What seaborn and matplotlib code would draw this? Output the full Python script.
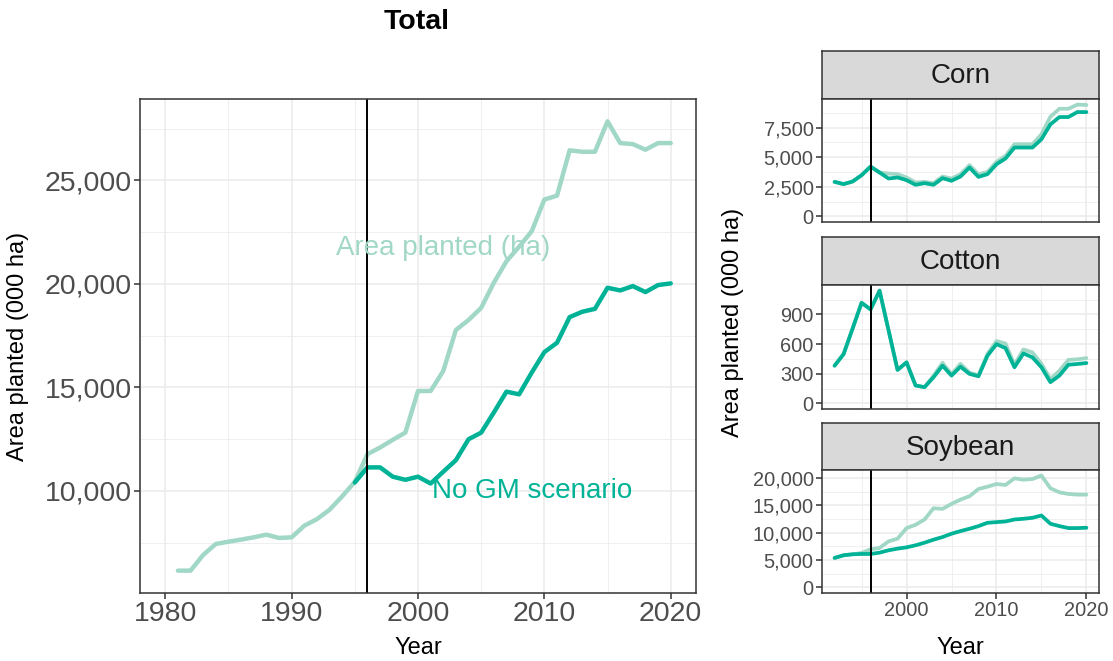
import seaborn as sns
import matplotlib.pyplot as plt
import matplotlib.ticker as mticker
import pandas as pd

## data (000 ha)
years_total = list(range(1981, 2021))
area_total = [6140, 6140, 6900, 7430, 7540, 7640, 7750, 7880, 7720, 7750,
              8310, 8630, 9080, 9730, 10430, 11770, 12090, 12460, 12810, 14820,
              14820, 15790, 17770, 18250, 18840, 20050, 21090, 21790, 22540, 24070,
              24260, 26450, 26380, 26380, 27850, 26800, 26750, 26480, 26800, 26800]
years_nogm = list(range(1995, 2021))
nogm_total = [10400, 11130, 11130, 10680, 10530, 10680, 10350, 10920, 11480, 12490,
              12810, 13780, 14790, 14660, 15710, 16700, 17150, 18390, 18650, 18790,
              19810, 19680, 19890, 19600, 19940, 20020]

years_crop = list(range(1992, 2021))
corn_area = [2920, 2730, 2950, 3480, 4210, 3710, 3620, 3570, 3290, 2870,
             2920, 2810, 3370, 3200, 3570, 4330, 3570, 3760, 4610, 5110,
             6100, 6100, 6100, 6940, 8430, 9100, 9100, 9450, 9420]
corn_nogm = [2920, 2730, 2950, 3480, 4210, 3710, 3200, 3290, 3060, 2670,
             2810, 2670, 3230, 3010, 3370, 4130, 3340, 3570, 4410, 4890,
             5820, 5820, 5820, 6520, 7780, 8400, 8400, 8820, 8820]
cotton_area = [381, 498, 756, 1017, 950, 1140, 739, 338, 415, 181,
               164, 280, 410, 295, 400, 310, 285, 500, 630, 605,
               390, 545, 515, 400, 245, 330, 440, 445, 458]
cotton_nogm = [381, 498, 756, 1017, 950, 1140, 739, 338, 415, 181,
               164, 264, 381, 281, 371, 298, 274, 482, 599, 559,
               365, 505, 465, 365, 214, 281, 391, 398, 408]
soy_area = [5390, 5880, 6060, 6300, 6970, 7210, 8420, 8910, 10850, 11450,
            12420, 14480, 14360, 15270, 16060, 16670, 18000, 18420, 18910, 18730,
            19940, 19700, 19820, 20450, 18120, 17390, 17090, 16970, 16970]
soy_nogm = [5390, 5880, 6060, 6120, 6120, 6360, 6790, 7090, 7330, 7700,
            8180, 8730, 9210, 9820, 10300, 10730, 11210, 11820, 11940, 12060,
            12420, 12550, 12730, 13150, 11640, 11210, 10850, 10850, 10910]

crop_names = ["Corn", "Cotton", "Soybean"]
crop_area = [corn_area, cotton_area, soy_area]
crop_nogm = [corn_nogm, cotton_nogm, soy_nogm]

light = "#a1d7c6"
dark = "#00b397"
grid_c = "#ebebeb"
frame_c = "#333333"
tick_c = "#4d4d4d"

sns.set_style("white")
plt.rcParams['font.family'] = ['Liberation Sans', 'DejaVu Sans']
plt.rcParams['text.color'] = 'black'

W, H = 1113, 661
fig = plt.figure(figsize=(W / 100, H / 100), dpi=100)


def box(l, t, r, b):
    return [l / W, 1 - b / H, (r - l) / W, (b - t) / H]


def style_axes(ax, xmaj, xmin, ymaj, ymin, fs):
    ax.set_xticks(xmaj)
    ax.set_xticks(xmin, minor=True)
    ax.set_yticks(ymaj)
    ax.set_yticks(ymin, minor=True)
    ax.grid(which="major", color=grid_c, linewidth=1.1)
    ax.grid(which="minor", color=grid_c, linewidth=0.55)
    ax.set_axisbelow(True)
    for s in ax.spines.values():
        s.set_color(frame_c)
        s.set_linewidth(1.1)
    ax.tick_params(which="major", length=4, width=1.1, color=frame_c,
                   labelsize=fs, labelcolor=tick_c, pad=2,
                   bottom=True, left=True)
    ax.tick_params(which="minor", length=0)
    ax.yaxis.set_major_formatter(mticker.FuncFormatter(lambda v, p: f"{v:,.0f}"))
    ax.set_xlabel("")
    ax.set_ylabel("")


#total panel
ax = fig.add_axes(box(140, 99, 696, 593))
df_a = pd.DataFrame({"Year": years_total, "value": area_total})
df_n = pd.DataFrame({"Year": years_nogm, "value": nogm_total})
sns.lineplot(x="Year", y="value", data=df_a, ax=ax, color=light, linewidth=3.2)
sns.lineplot(x="Year", y="value", data=df_n, ax=ax, color=dark, linewidth=3.2)
ax.axvline(1996, color="black", linewidth=1.4)
ax.set_xlim(1978, 2022)
ax.set_ylim(5060, 28930)
style_axes(ax, [1980, 1990, 2000, 2010, 2020], [1985, 1995, 2005, 2015],
           [10000, 15000, 20000, 25000], [7500, 12500, 17500, 22500, 27500], 20.5)
ax.text(2002, 21750, "Area planted (ha)", color=light, fontsize=20,
        ha="center", va="center")
ax.text(2009, 10000, "No GM scenario", color=dark, fontsize=20,
        ha="center", va="center")

fig.text(417 / W, 1 - 22 / H, "Total", fontsize=20.5, fontweight="bold",
         ha="center", va="center")
fig.text(18 / W, 1 - 346 / H, "Area planted (000 ha)", fontsize=17,
         rotation=90, ha="center", va="center")
fig.text(418 / W, 1 - 648 / H, "Year", fontsize=17, ha="center", va="center")

#crop facets
panels = [(51, 99, 222), (237, 285, 409), (423, 470, 593)]
y_lims = [(-475, 9925), (-57, 1197), (-1020, 21470)]
y_major = [[0, 2500, 5000, 7500], [0, 300, 600, 900], [0, 5000, 10000, 15000, 20000]]
y_minor = [[1250, 3750, 6250, 8750], [150, 450, 750, 1050], [2500, 7500, 12500, 17500]]

for i, name in enumerate(crop_names):
    st, top, bot = panels[i]
    sax = fig.add_axes(box(822, st, 1099, top))
    sax.set_facecolor("#d9d9d9")
    sax.set_xticks([])
    sax.set_yticks([])
    for s in sax.spines.values():
        s.set_color(frame_c)
        s.set_linewidth(1.1)
    sax.text(0.5, 0.47, name, fontsize=20, color="#1a1a1a",
             ha="center", va="center", transform=sax.transAxes)

    cax = fig.add_axes(box(822, top, 1099, bot))
    d_a = pd.DataFrame({"Year": years_crop, "value": crop_area[i]})
    d_n = pd.DataFrame({"Year": years_crop, "value": crop_nogm[i]})
    sns.lineplot(x="Year", y="value", data=d_a, ax=cax, color=light, linewidth=2.7)
    sns.lineplot(x="Year", y="value", data=d_n, ax=cax, color=dark, linewidth=2.7)
    cax.axvline(1996, color="black", linewidth=1.4)
    cax.set_xlim(1990.6, 2021.4)
    cax.set_ylim(*y_lims[i])
    style_axes(cax, [2000, 2010, 2020], [1995, 2005, 2015],
               y_major[i], y_minor[i], 14.4)
    if i < 2:
        cax.tick_params(axis="x", which="major", bottom=False, labelbottom=False)

fig.text(733 / W, 1 - 322 / H, "Area planted (000 ha)", fontsize=17,
         rotation=90, ha="center", va="center")
fig.text(960 / W, 1 - 648 / H, "Year", fontsize=17, ha="center", va="center")

fig.savefig("out.png", dpi=100)
